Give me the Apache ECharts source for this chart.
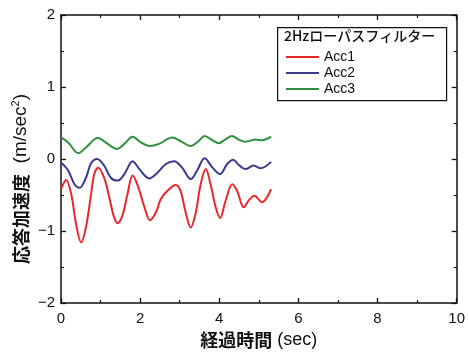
<!DOCTYPE html>
<html>
<head>
<meta charset="utf-8">
<script src="https://cdn.jsdelivr.net/npm/echarts@6/dist/echarts.min.js"></script>
<style>
  html, body { margin: 0; padding: 0; background: #fff; }
  #chart { width: 468px; height: 354px; }
</style>
</head>
<body>
<div id="chart"></div>
<script>
// Response acceleration (m/s^2) after a 2 Hz low-pass filter
const acc1Time   = [0, 0.13, 0.26, 0.38, 0.51, 0.63, 0.76, 0.84, 0.94, 1.09, 1.22, 1.33, 1.43, 1.55, 1.68, 1.81, 1.94, 2.11, 2.25, 2.40, 2.52, 2.69, 2.90, 3.02, 3.15, 3.28, 3.40, 3.53, 3.66, 3.78, 3.91, 4.02, 4.16, 4.33, 4.45, 4.62, 4.74, 4.89, 5.08, 5.21, 5.31];
const acc1Values = [-0.42, -0.29, -0.49, -0.90, -1.16, -0.95, -0.49, -0.21, -0.12, -0.26, -0.53, -0.79, -0.89, -0.79, -0.49, -0.23, -0.37, -0.67, -0.85, -0.74, -0.56, -0.44, -0.36, -0.44, -0.74, -0.95, -0.76, -0.35, -0.14, -0.35, -0.67, -0.82, -0.58, -0.35, -0.44, -0.67, -0.58, -0.51, -0.60, -0.53, -0.42];

const acc2Time   = [0, 0.18, 0.34, 0.47, 0.63, 0.76, 0.91, 1.09, 1.26, 1.43, 1.60, 1.81, 1.98, 2.23, 2.44, 2.65, 2.86, 3.06, 3.28, 3.44, 3.63, 3.83, 4.02, 4.20, 4.35, 4.49, 4.66, 4.87, 5.04, 5.31];
const acc2Values = [-0.05, -0.16, -0.35, -0.40, -0.26, -0.06, 0.0, -0.09, -0.26, -0.30, -0.21, -0.03, -0.14, -0.27, -0.19, -0.07, -0.03, -0.12, -0.28, -0.16, 0.01, -0.12, -0.21, -0.07, -0.01, -0.08, -0.14, -0.09, -0.13, -0.04];

const acc3Time   = [0, 0.18, 0.44, 0.63, 0.93, 1.18, 1.41, 1.60, 1.81, 2.02, 2.23, 2.48, 2.81, 3.02, 3.28, 3.48, 3.63, 3.83, 3.99, 4.15, 4.32, 4.49, 4.66, 4.92, 5.08, 5.31];
const acc3Values = [0.30, 0.23, 0.08, 0.16, 0.29, 0.21, 0.14, 0.21, 0.31, 0.23, 0.18, 0.21, 0.30, 0.25, 0.18, 0.25, 0.32, 0.26, 0.22, 0.27, 0.32, 0.27, 0.24, 0.27, 0.26, 0.31];

const seriesNames  = ['Acc1', 'Acc2', 'Acc3'];
const seriesColors = ['#e8262c', '#3b3a8e', '#2f8f3c'];
const legendTitle  = '2Hzローパスフィルター';

const pairs = (t, v) => t.map((x, i) => [x, v[i]]);
const seriesData = [pairs(acc1Time, acc1Values), pairs(acc2Time, acc2Values), pairs(acc3Time, acc3Values)];

const latin = 'Liberation Sans, Arial, sans-serif';
const cjk = '"Noto Sans CJK JP"';
const tickFont = { fontFamily: latin, fontSize: 15, color: '#111' };
const axisLine = { show: true, onZero: false, lineStyle: { color: '#111', width: 1.5 } };
const majorTick = { show: true, inside: true, length: 5, lineStyle: { color: '#111', width: 1.3 } };
const minorTick = { show: true, splitNumber: 2, length: 3, lineStyle: { color: '#111', width: 1.2 } };
const minus = v => String(v).replace('-', '\u2212');

const chart = echarts.init(document.getElementById('chart'), null, { renderer: 'canvas' });
chart.setOption({
  backgroundColor: '#fff',
  animation: false,
  grid: { left: 61, right: 8, top: 15, bottom: 50 },
  xAxis: [
    {
      type: 'value', min: 0, max: 10, interval: 2, position: 'bottom',
      axisLine, axisTick: majorTick, minorTick, splitLine: { show: false },
      axisLabel: Object.assign({ margin: 8 }, tickFont),
      name: '{c|経過時間}{l| (sec)}', nameLocation: 'middle', nameGap: 28,
      nameTextStyle: {
        color: '#111',
        rich: {
          c: { fontFamily: cjk, fontSize: 18, fontWeight: 'bold', color: '#111' },
          l: { fontFamily: latin, fontSize: 18, color: '#111' }
        }
      }
    },
    {
      type: 'value', min: 0, max: 10, interval: 2, position: 'top',
      axisLine, axisTick: majorTick, minorTick, splitLine: { show: false },
      axisLabel: { show: false }
    }
  ],
  yAxis: [
    {
      type: 'value', min: -2, max: 2, interval: 1, position: 'left',
      axisLine, axisTick: majorTick, minorTick, splitLine: { show: false },
      axisLabel: Object.assign({ margin: 6, formatter: minus }, tickFont)
    },
    {
      type: 'value', min: -2, max: 2, interval: 1, position: 'right',
      axisLine, axisTick: majorTick, minorTick, splitLine: { show: false },
      axisLabel: { show: false }
    }
  ],
  legend: {
    data: seriesNames,
    orient: 'vertical',
    left: 286, top: 49, padding: 0,
    icon: 'rect', itemWidth: 33, itemHeight: 2, itemGap: 0,
    textStyle: { fontFamily: latin, fontSize: 14, color: '#111', lineHeight: 16 }
  },
  graphic: [
    {
      type: 'rect', left: 277, top: 27, z: 0,
      shape: { width: 169, height: 73 },
      style: { fill: '#fff', stroke: '#111', lineWidth: 1.2 }
    },
    {
      type: 'text', left: 284, top: 29, z: 1,
      style: { text: legendTitle, font: '500 14px ' + cjk, fill: '#111' }
    },
    {
      type: 'text', x: 21, y: 179, rotation: Math.PI / 2,
      style: {
        text: '{c|応答加速度}{l|  (m/sec}{s|2}{l|)}',
        fill: '#111',
        align: 'center', verticalAlign: 'middle',
        rich: {
          c: { font: 'bold 18px ' + cjk, fill: '#111', lineHeight: 22 },
          l: { font: '19px ' + latin, fill: '#111', lineHeight: 22 },
          s: { font: '11px ' + latin, fill: '#111', verticalAlign: 'top', lineHeight: 22 }
        }
      }
    }
  ],
  series: seriesNames.map((name, i) => ({
    name, type: 'line', data: seriesData[i],
    smooth: 0.35, showSymbol: false, symbol: 'none',
    lineStyle: { color: seriesColors[i], width: 2 },
    itemStyle: { color: seriesColors[i] },
    z: 3
  }))
});
</script>
</body>
</html>
